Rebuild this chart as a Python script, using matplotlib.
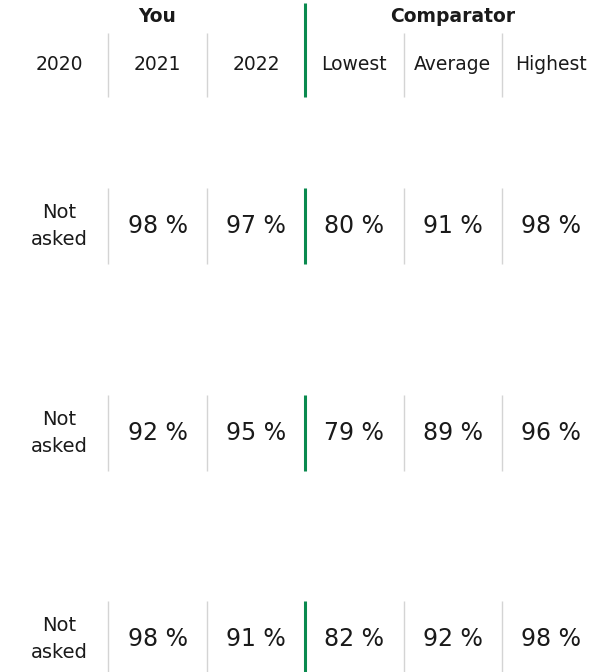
import matplotlib
matplotlib.use("Agg")
import matplotlib.pyplot as plt

plt.rcParams['font.family'] = ['DejaVu Sans']

# data
groups = ['You', 'Comparator']
columns = ['2020', '2021', '2022', 'Lowest', 'Average', 'Highest']
you_2020 = ['Not\nasked', 'Not\nasked', 'Not\nasked']
you_2021 = [98, 92, 98]
you_2022 = [97, 95, 91]
comp_lowest = [80, 79, 82]
comp_average = [91, 89, 92]
comp_highest = [98, 96, 98]

W, H = 616, 672
fig = plt.figure(figsize=(W / 100, H / 100), dpi=100)
ax = fig.add_axes([0, 0, 1, 1])
ax.set_xlim(0, W)
ax.set_ylim(H, 0)
ax.axis('off')

col_left = 10
col_w = 98.4
centers = [col_left + col_w * (i + 0.5) for i in range(len(columns))]
edges = [col_left + col_w * i for i in range(1, len(columns))]

green = '#0a8a4f'
grey = '#d4d4d4'
txt = '#1a1a1a'

# header
ax.text(centers[1], 17, groups[0], ha='center', va='center', fontsize=13.5,
        fontweight='bold', color=txt)
ax.text(centers[4], 17, groups[1], ha='center', va='center', fontsize=13.5,
        fontweight='bold', color=txt)
for c, lab in zip(centers, columns):
    ax.text(c, 65, lab, ha='center', va='center', fontsize=13.5, color=txt)
for i, e in enumerate(edges):
    if i == 2:
        ax.plot([e, e], [3, 97], color=green, lw=2.2, solid_capstyle='butt')
    else:
        ax.plot([e, e], [33, 97], color=grey, lw=1, solid_capstyle='butt')

# rows
row_y = [226, 433, 639]
rows = list(zip(you_2020, you_2021, you_2022, comp_lowest, comp_average, comp_highest))
for y, row in zip(row_y, rows):
    for j, (c, v) in enumerate(zip(centers, row)):
        if isinstance(v, str):
            ax.text(c, y, v, ha='center', va='center', fontsize=14,
                    color=txt, linespacing=1.5)
        else:
            ax.text(c, y, f'{v} %', ha='center', va='center', fontsize=17,
                    color=txt)
    for i, e in enumerate(edges):
        if i == 2:
            ax.plot([e, e], [y - 38, y + 38], color=green, lw=2.2,
                    solid_capstyle='butt')
        else:
            ax.plot([e, e], [y - 38, y + 38], color=grey, lw=1,
                    solid_capstyle='butt')

fig.savefig('out.png', dpi=100, facecolor='white')
